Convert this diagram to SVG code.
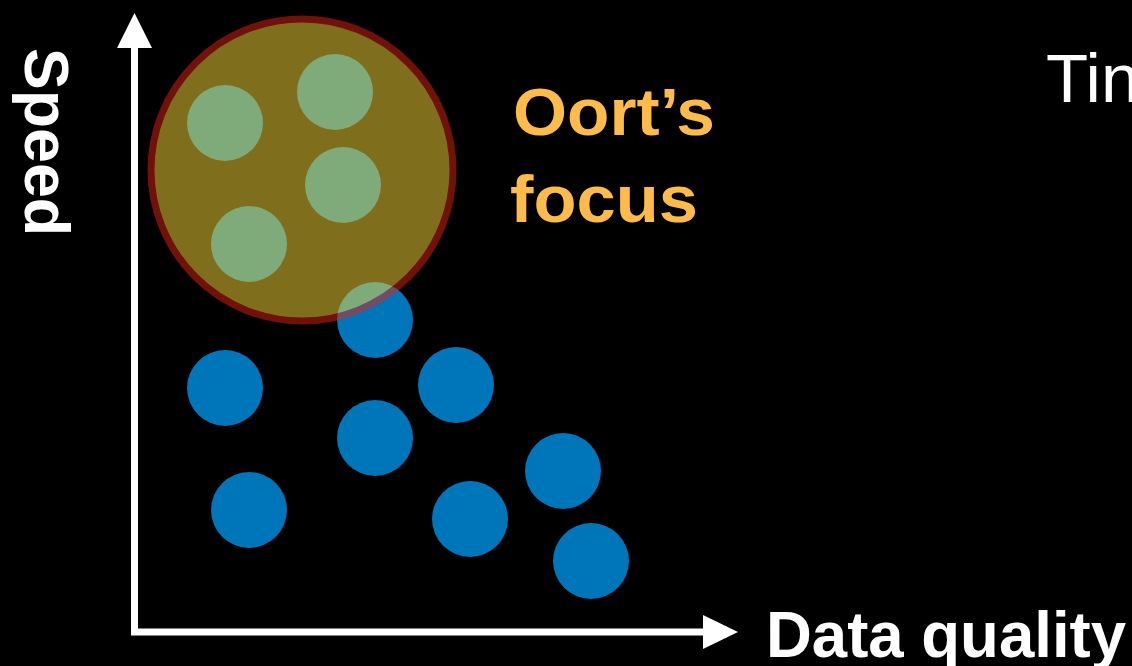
<svg xmlns="http://www.w3.org/2000/svg" width="1132" height="666" viewBox="0 0 1132 666">
  <style>
    .dot { fill: #0076BA; }
    .focus { fill: #FEDE3A; stroke: #E42214; stroke-width: 7; opacity: 0.5; }
    .axis { stroke: #FFFFFF; stroke-width: 7; fill: none; }
    .head { fill: #FFFFFF; }
    .lbl { font-family: "Liberation Sans", Arial, sans-serif; font-weight: bold; fill: #FFFFFF; }
    .orange { font-family: "Liberation Sans", Arial, sans-serif; font-weight: bold; fill: #FDBB4B; }
    .reg { font-family: "Liberation Sans", Arial, sans-serif; fill: #FFFFFF; }
  </style>
  <rect x="0" y="0" width="1132" height="666" fill="#000000"/>
  <g id="points">
    <circle class="dot" cx="225" cy="123" r="38"/>
    <circle class="dot" cx="335" cy="92" r="38"/>
    <circle class="dot" cx="343" cy="185" r="38"/>
    <circle class="dot" cx="249" cy="244" r="38"/>
    <circle class="dot" cx="375" cy="320" r="38"/>
    <circle class="dot" cx="225" cy="388" r="38"/>
    <circle class="dot" cx="456" cy="385" r="38"/>
    <circle class="dot" cx="375" cy="438" r="38"/>
    <circle class="dot" cx="563" cy="471" r="38"/>
    <circle class="dot" cx="249" cy="510" r="38"/>
    <circle class="dot" cx="470" cy="519" r="38"/>
    <circle class="dot" cx="591" cy="561" r="38"/>
  </g>
  <g id="oort-focus">
    <circle class="focus" cx="302" cy="170" r="151"/>
    <text class="orange" x="513" y="135" font-size="66" textLength="202" lengthAdjust="spacingAndGlyphs">Oort’s</text>
    <text class="orange" x="510" y="222" font-size="66" textLength="188" lengthAdjust="spacingAndGlyphs">focus</text>
  </g>
  <g id="axes">
    <path class="axis" d="M134.5 44 V632 H704"/>
    <polygon class="head" points="134.5,13 117,48 152,48"/>
    <polygon class="head" points="738,632 703,615 703,649"/>
  </g>
  <g id="speed-label">
    <text class="lbl" transform="translate(25,48) rotate(90)" x="0" y="0" font-size="63" textLength="188" lengthAdjust="spacingAndGlyphs">Speed</text>
  </g>
  <g id="quality-label">
    <text class="lbl" x="766" y="657" font-size="65" textLength="360" lengthAdjust="spacingAndGlyphs">Data quality</text>
  </g>
  <g id="tin-label">
    <text class="reg" x="1046" y="102" font-size="69">Tin</text>
  </g>
</svg>
